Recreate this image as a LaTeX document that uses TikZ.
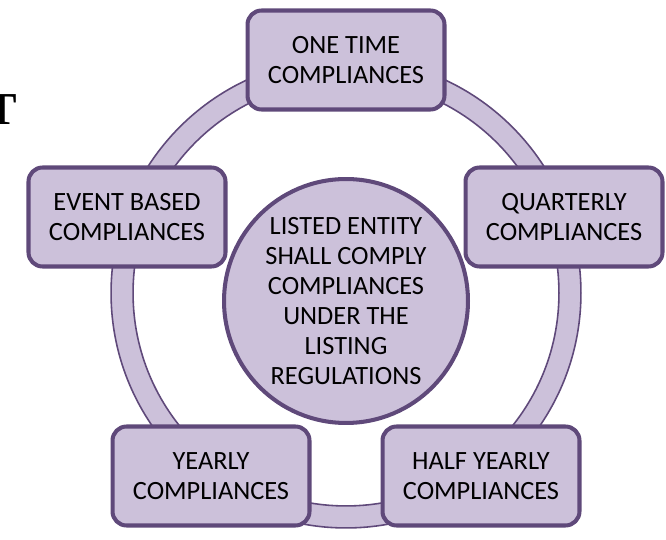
\documentclass[tikz,border=0pt]{standalone}
\usepackage{fontspec}
\setmainfont{Carlito}
\newfontfamily\headfont{Liberation Serif}
\definecolor{lavender}{HTML}{CCC1DA}
\definecolor{plum}{HTML}{5F497A}
\tikzset{
  stagebox/.style={draw=plum, line width=2.3pt, fill=lavender, rounded corners=0.28cm,
    minimum width=3.94cm, minimum height=1.98cm, align=center, inner sep=0pt,
    font=\fontsize{15}{17.1}\selectfont},
  hubcircle/.style={circle, draw=plum, line width=2.3pt, fill=lavender,
    minimum size=4.88cm, align=center, inner sep=0pt,
    font=\fontsize{15}{17.1}\selectfont},
  ringband/.style={draw=plum, line width=0.9pt, fill=lavender, even odd rule},
  headpart/.style={inner sep=0pt, font=\headfont\bfseries\fontsize{26}{30}\selectfont}
}
\begin{document}
\begin{tikzpicture}[x=0.02cm, y=-0.02cm]
        \useasboundingbox (0,0) rectangle (666,540);
        \clip (0,0) rectangle (666,540);
        % heading cut off at the left margin
        \node[headpart, anchor=base east] (headE) at (2,80) {E};
        \node[headpart, anchor=base east] (headT) at (17,125) {T};
        % ring behind the boxes
        \coordinate (ringc) at (346,293);
        \draw[ringband] (ringc) circle (4.7cm) (ringc) circle (4.26cm);
        % centre
        \node[hubcircle] (hub) at (346,301) {LISTED ENTITY\\SHALL COMPLY\\COMPLIANCES\\UNDER THE\\LISTING\\REGULATIONS};
        % compliance boxes round the ring
        \node[stagebox] (onetime) at (346,60) {ONE TIME\\COMPLIANCES};
        \node[stagebox] (quarterly) at (564,217) {QUARTERLY\\COMPLIANCES};
        \node[stagebox] (halfyearly) at (481,476) {HALF YEARLY\\COMPLIANCES};
        \node[stagebox] (yearly) at (211,476) {YEARLY\\COMPLIANCES};
        \node[stagebox] (eventbased) at (127,217) {EVENT BASED\\COMPLIANCES};
\end{tikzpicture}
\end{document}
